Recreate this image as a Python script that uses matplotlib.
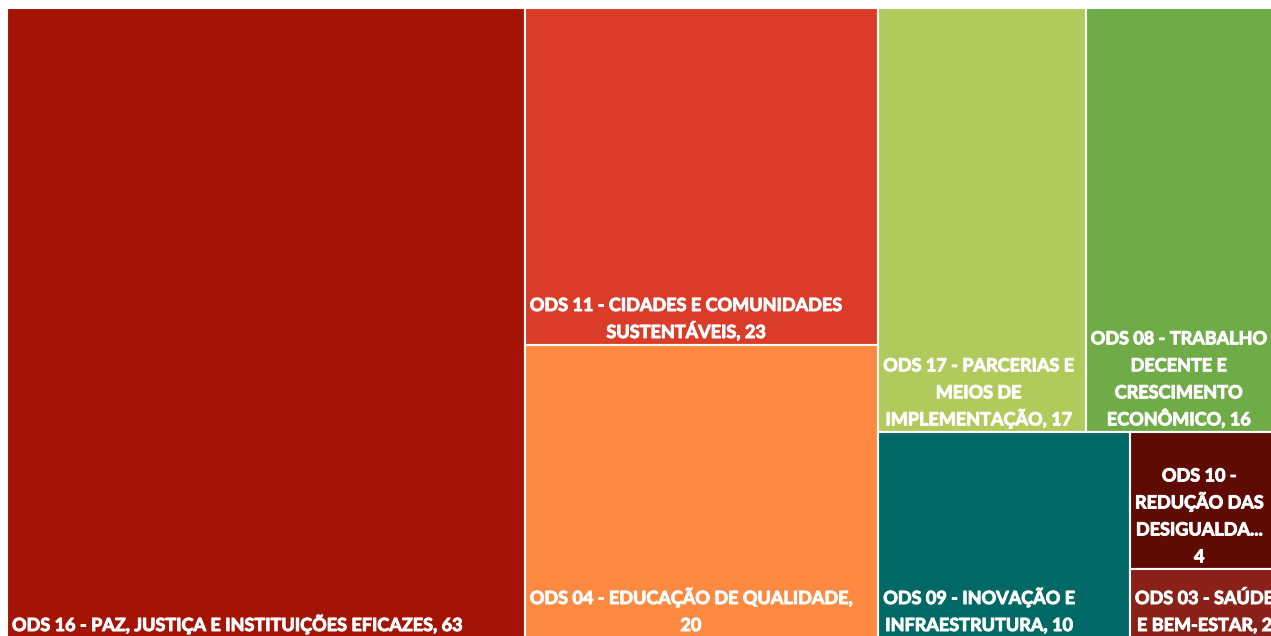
import matplotlib.pyplot as plt
import matplotlib.patheffects as pe
from matplotlib.patches import Rectangle

labels = [
    "ODS 16 - PAZ, JUSTIÇA E INSTITUIÇÕES EFICAZES, 63",
    "ODS 11 - CIDADES E COMUNIDADES\nSUSTENTÁVEIS, 23",
    "ODS 04 - EDUCAÇÃO DE QUALIDADE,\n20",
    "ODS 17 - PARCERIAS E\nMEIOS DE\nIMPLEMENTAÇÃO, 17",
    "ODS 08 - TRABALHO\nDECENTE E\nCRESCIMENTO\nECONÔMICO, 16",
    "ODS 09 - INOVAÇÃO E\nINFRAESTRUTURA, 10",
    "ODS 10 -\nREDUÇÃO DAS\nDESIGUALDA...\n4",
    "ODS 03 - SAÚDE\nE BEM-ESTAR, 2",
]
values = [63, 23, 20, 17, 16, 10, 4, 2]
colors = ["#A31306", "#DB3C29", "#FD8A40", "#B0CB5B", "#6FAC47",
          "#006965", "#5E0B03", "#8A2118"]

# nesting as laid out by the spreadsheet treemap: 'h' splits side by side, 'v' stacks
layout = ('h', [0, ('v', [1, 2]), ('v', [('h', [3, 4]), ('h', [5, ('v', [6, 7])])])])


def node_sum(node):
    if isinstance(node, int):
        return values[node]
    return sum(node_sum(c) for c in node[1])


def place(node, x, y, w, h, out):
    if isinstance(node, int):
        out[node] = (x, y, w, h)
        return
    direction, children = node
    total = node_sum(node)
    pos = 0.0
    for c in children:
        frac = node_sum(c) / total
        if direction == 'h':
            place(c, x + pos * w, y, w * frac, h, out)
        else:
            place(c, x, y + pos * h, w, h * frac, out)
        pos += frac


W, H = 1274, 630
rects = {}
place(layout, 0, 0, W, H, rects)

fig = plt.figure(figsize=(12.71, 6.36), dpi=100)
ax = fig.add_axes([7 / 1271, -2 / 636, W / 1271, H / 636])
ax.set_xlim(0, W)
ax.set_ylim(H, 0)
ax.axis('off')

text_kw = dict(color='white', fontsize=13, fontweight='bold', family='Lato',
               path_effects=[pe.withStroke(linewidth=0.7, foreground='white')])
renderer = fig.canvas.get_renderer()
line_step = 27  # px between baselines

for i, lab in enumerate(labels):
    x, y, w, h = rects[i]
    ax.add_patch(Rectangle((x, y), w, h, facecolor=colors[i], edgecolor='white',
                           linewidth=1.5, clip_on=False))
    lines = lab.split('\n')
    widths = []
    for line in lines:
        t = ax.text(0, 0, line, **text_kw)
        widths.append(t.get_window_extent(renderer).width)
        t.remove()
    block_w = max(widths)
    for k, line in enumerate(lines):
        ax.annotate(line, (x, y + h),
                    xytext=(5 + block_w / 2, 7 + (len(lines) - 1 - k) * line_step),
                    textcoords='offset pixels', ha='center', va='baseline',
                    annotation_clip=False, **text_kw)

fig.savefig("out.png", dpi=100)
